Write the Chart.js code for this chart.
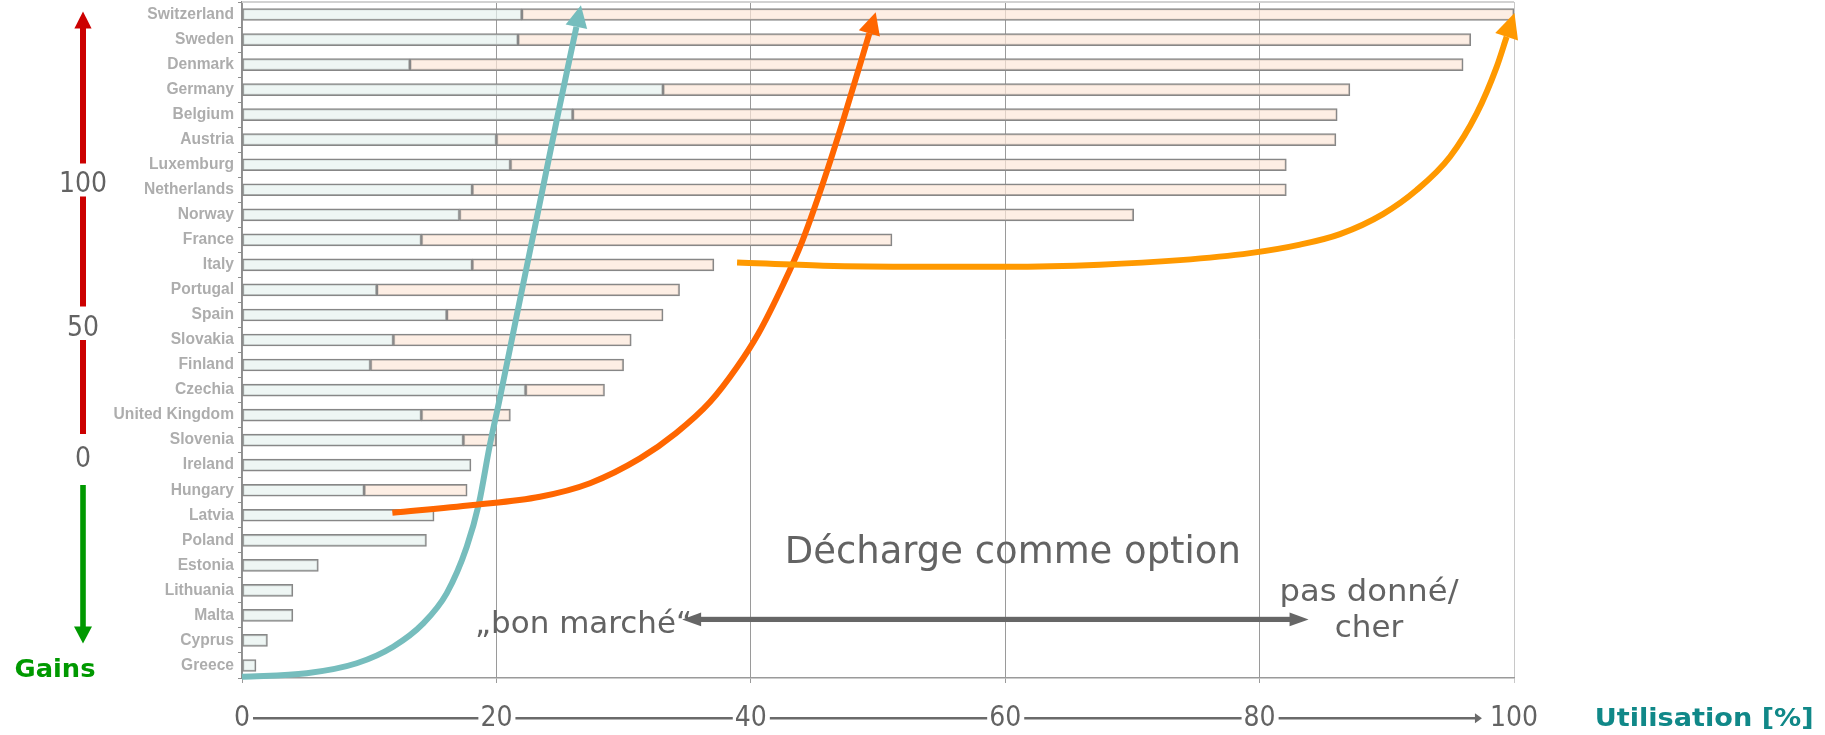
<!DOCTYPE html>
<html><head><meta charset="utf-8">
<script src="https://cdn.jsdelivr.net/npm/chart.js@4.4.1/dist/chart.umd.min.js"></script>
<style>html,body{margin:0;padding:0;background:#fff;}canvas{display:block;}</style>
</head><body>
<canvas id="c" width="1825" height="735"></canvas>
<script>
// ---- data ----
const countries = ['Switzerland','Sweden','Denmark','Germany','Belgium','Austria','Luxemburg','Netherlands','Norway','France','Italy','Portugal','Spain','Slovakia','Finland','Czechia','United Kingdom','Slovenia','Ireland','Hungary','Latvia','Poland','Estonia','Lithuania','Malta','Cyprus','Greece'];
const shareFirst  = [22.0,21.7,13.2,33.1,26.0,20.0,21.1,18.1,17.1,14.1,18.1,10.6,16.1,11.9,10.1,22.3,14.1,17.4,18.0,9.6,15.1,14.5,6.0,4.0,4.0,2.0,1.1];
const shareSecond = [78.0,74.9,82.8,54.0,60.1,66.0,61.0,64.0,53.0,37.0,19.0,23.8,17.0,18.7,19.9,6.2,7.0,2.6,null,8.1,null,null,null,null,null,null,null];
const xTicks = [0,20,40,60,80,100];
const gainTicks = ['100','50','0'];
// curves: [utilisation %, vertical position in rows counted from the bottom]
const curveTeal = [[0,0.05],[5.09,0.19],[9.02,0.59],[11.89,1.25],[14.25,2.18],[16.09,3.38],[17.67,5.24],[18.63,6.98],[19.46,9.24],[20.24,11.10],[21.58,14.43],[23.19,18.42],[24.80,22.42],[26.29,26.01]];
const curveRed  = [[11.82,6.60],[18.16,6.91],[23.43,7.24],[27.36,7.78],[31.29,8.77],[34.12,9.78],[36.79,11.02],[38.92,12.42],[40.61,13.77],[42.58,15.76],[43.98,17.36],[45.67,19.76],[47.35,22.42],[49.32,25.75]];
const curveOrange = [[38.92,16.60],[45.68,16.47],[53.30,16.43],[60.06,16.43],[67.45,16.51],[73.74,16.69],[79.25,16.97],[83.18,17.31],[86.32,17.73],[89.70,18.53],[92.35,19.49],[94.97,20.82],[97.07,22.55],[98.64,24.41],[99.42,25.61]];
const rangeArrow = {from: 34.6, to: 83.85, row: 2.34};
const textDecharge = {text: 'Décharge comme option', x: 60.6, row: 4.58};
const textCheap = {text: '\u201Ebon marché\u201C', x: 26.85, row: 1.785};
const textExpensive1 = {text: 'pas donné/', x: 88.6, row: 3.075};
const textExpensive2 = {text: 'cher', x: 88.6, row: 1.65};

const DIGIT_FONT = '"DejaVu Sans Condensed", "DejaVu Sans", sans-serif';
const GREY = '#636363';

function fitText(ctx, text, cx, base, font, color, targetW) {
  ctx.save();
  ctx.font = font; ctx.fillStyle = color;
  ctx.textAlign = 'center'; ctx.textBaseline = 'alphabetic';
  const w = ctx.measureText(text).width;
  const s = targetW ? targetW / w : 1;
  ctx.translate(cx, base); ctx.scale(s, 1);
  ctx.fillText(text, 0, 0);
  ctx.restore();
}
function head(ctx, bx, by, dx, dy, len, half, color) {
  const n = Math.hypot(dx, dy); dx /= n; dy /= n;
  const tx = bx + dx * len, ty = by + dy * len, px = -dy, py = dx;
  ctx.beginPath();
  ctx.moveTo(tx, ty);
  ctx.lineTo(bx + px * half, by + py * half);
  ctx.lineTo(bx - px * half, by - py * half);
  ctx.closePath();
  ctx.fillStyle = color; ctx.fill();
}
const noPad = s => { s.paddingTop = 0; s.paddingBottom = 0; s.paddingLeft = 0; s.paddingRight = 0; };

const decor = {
  id: 'decor',
  afterDatasetsDraw(chart) {
    const ctx = chart.ctx;
    const specs = [[2,'#76bdbd',22,11],[3,'#ff6600',22,11],[4,'#ff9900',25,12]];
    for (const [i,col,len,half] of specs) {
      const pts = chart.getDatasetMeta(i).data;
      const p = pts[pts.length-1], q = pts[pts.length-2];
      let dx = p.x - q.x, dy = p.y - q.y;
      if (p.cp1x !== undefined && Math.hypot(p.x-p.cp1x, p.y-p.cp1y) > 0.5) { dx = p.x - p.cp1x; dy = p.y - p.cp1y; }
      head(ctx, p.x, p.y, dx, dy, len, half, col);
    }
  },
  afterDraw(chart) {
    const ctx = chart.ctx, xs = chart.scales.x, ys = chart.scales.yc, ca = chart.chartArea;
    ctx.save();
    // top border
    ctx.strokeStyle = '#d2d2d2'; ctx.lineWidth = 2;
    ctx.beginPath(); ctx.moveTo(ca.left, ca.top); ctx.lineTo(ca.right, ca.top); ctx.stroke();

    // bottom axis line with arrow between tick labels
    ctx.font = '28px ' + DIGIT_FONT;
    const ly = xs.bottom - 16.7;
    ctx.strokeStyle = '#6a6a6a'; ctx.lineWidth = 2.5;
    for (let i = 0; i < xTicks.length - 1; i++) {
      const a = xs.getPixelForValue(xTicks[i]) + ctx.measureText(String(xTicks[i])).width/2 + 3;
      let b = xs.getPixelForValue(xTicks[i+1]) - ctx.measureText(String(xTicks[i+1])).width/2 - 2;
      const last = i === xTicks.length - 2;
      if (last) b -= 6;
      ctx.beginPath(); ctx.moveTo(a, ly); ctx.lineTo(last ? b - 6 : b, ly); ctx.stroke();
      if (last) head(ctx, b - 7, ly, 1, 0, 7, 5, '#6a6a6a');
    }

    // double arrow in the plot
    const ay = ys.getPixelForValue(rangeArrow.row);
    const ax1 = xs.getPixelForValue(rangeArrow.from), ax2 = xs.getPixelForValue(rangeArrow.to);
    ctx.fillStyle = '#666';
    ctx.fillRect(ax1 + 15, ay - 2.6, ax2 - ax1 - 30, 5.2);
    head(ctx, ax1 + 19, ay, -1, 0, 19, 6.8, '#666');
    head(ctx, ax2 - 19, ay, 1, 0, 19, 6.8, '#666');

    // annotation texts
    const tf = (t, size, w) => fitText(ctx, t.text, xs.getPixelForValue(t.x), ys.getPixelForValue(t.row), size + 'px "DejaVu Sans", sans-serif', GREY, w);
    tf(textDecharge, 37, 456);
    tf(textCheap, 31, 217);
    tf(textExpensive1, 31, 179);
    tf(textExpensive2, 31, 68.5);

    // left gains scale
    const cx = 83;
    head(ctx, cx, 28.5, 0, -1, 17, 8.6, '#cc0000');
    ctx.fillStyle = '#cc0000';
    for (const [t,b] of [[28,163.5],[196.5,306.5],[340,434]]) ctx.fillRect(cx - 3, t, 6, b - t);
    ctx.fillStyle = '#009900';
    ctx.fillRect(cx - 2.8, 485, 5.6, 627 - 485);
    head(ctx, cx, 626.5, 0, 1, 17, 9, '#009900');
    const gy = [191.7, 336, 466.5];
    gainTicks.forEach((t, i) => fitText(ctx, t, cx, gy[i], '28px ' + DIGIT_FONT, GREY, 0));
    fitText(ctx, 'Gains', 55, 676.7, 'bold 25px "DejaVu Sans", sans-serif', '#009900', 81);
    fitText(ctx, 'Utilisation [%]', 1704.2, 726, 'bold 24px "DejaVu Sans", sans-serif', '#108888', 219);
    ctx.restore();
  }
};

const toPts = arr => arr.map(([x, y]) => ({x, y}));
const lineDs = (data, color, order, stack) => ({
  type: 'line', data: toPts(data), indexAxis: 'x', xAxisID: 'x', yAxisID: 'yc', stack,
  borderColor: color, borderWidth: 6, pointRadius: 0, cubicInterpolationMode: 'monotone', fill: false, clip: false, order,
  borderCapStyle: 'butt'
});
const barDs = (data, bg) => ({
  data, backgroundColor: bg, borderColor: '#878787', borderWidth: 1.5, borderSkipped: false,
  barThickness: 12, grouped: false, order: 10
});

new Chart(document.getElementById('c'), {
  type: 'bar',
  data: {
    labels: countries,
    datasets: [
      barDs(shareFirst, 'rgba(231,242,239,0.7)'),
      barDs(shareSecond, 'rgba(252,231,216,0.7)'),
      lineDs(curveTeal, '#76bdbd', 3, 's1'),
      lineDs(curveRed, '#ff6600', 2, 's2'),
      lineDs(curveOrange, '#ff9900', 1, 's3')
    ]
  },
  options: {
    indexAxis: 'y',
    responsive: false, animation: false, devicePixelRatio: 1,
    layout: {padding: {top: 2, right: 311, bottom: 0, left: 0}},
    plugins: {legend: {display: false}, tooltip: {enabled: false}},
    scales: {
      x: {
        type: 'linear', min: 0, max: 100, stacked: true, position: 'bottom', offset: false,
        afterFit: s => { s.height = 57; noPad(s); },
        afterBuildTicks: s => { s.ticks = xTicks.map(v => ({value: v})); },
        ticks: {font: {family: DIGIT_FONT, size: 28}, color: GREY, padding: 19, maxRotation: 0},
        grid: {color: c => (c.tick && c.tick.value === 100) ? '#c8c8c8' : '#9a9a9a', lineWidth: 1, tickLength: 5},
        border: {color: '#9a9a9a', width: 1.5}
      },
      y: {
        type: 'category', stacked: true, position: 'left', offset: true,
        afterFit: s => { s.width = 242; noPad(s); },
        ticks: {font: {family: '"Liberation Sans", Arial, sans-serif', weight: 'bold', size: 15.6}, color: '#adadad', padding: 4, autoSkip: false},
        grid: {drawOnChartArea: false, tickLength: 4, color: '#8e8e8e', offset: true},
        border: {color: '#8e8e8e', width: 1.5}
      },
      yc: {
        type: 'linear', axis: 'y', min: 0, max: 27, position: 'right', display: true, offset: false,
        afterFit: s => { s.width = 0; noPad(s); },
        ticks: {display: false}, grid: {display: false, offset: false}, border: {display: false}
      }
    }
  },
  plugins: [decor]
});
</script>
</body></html>
